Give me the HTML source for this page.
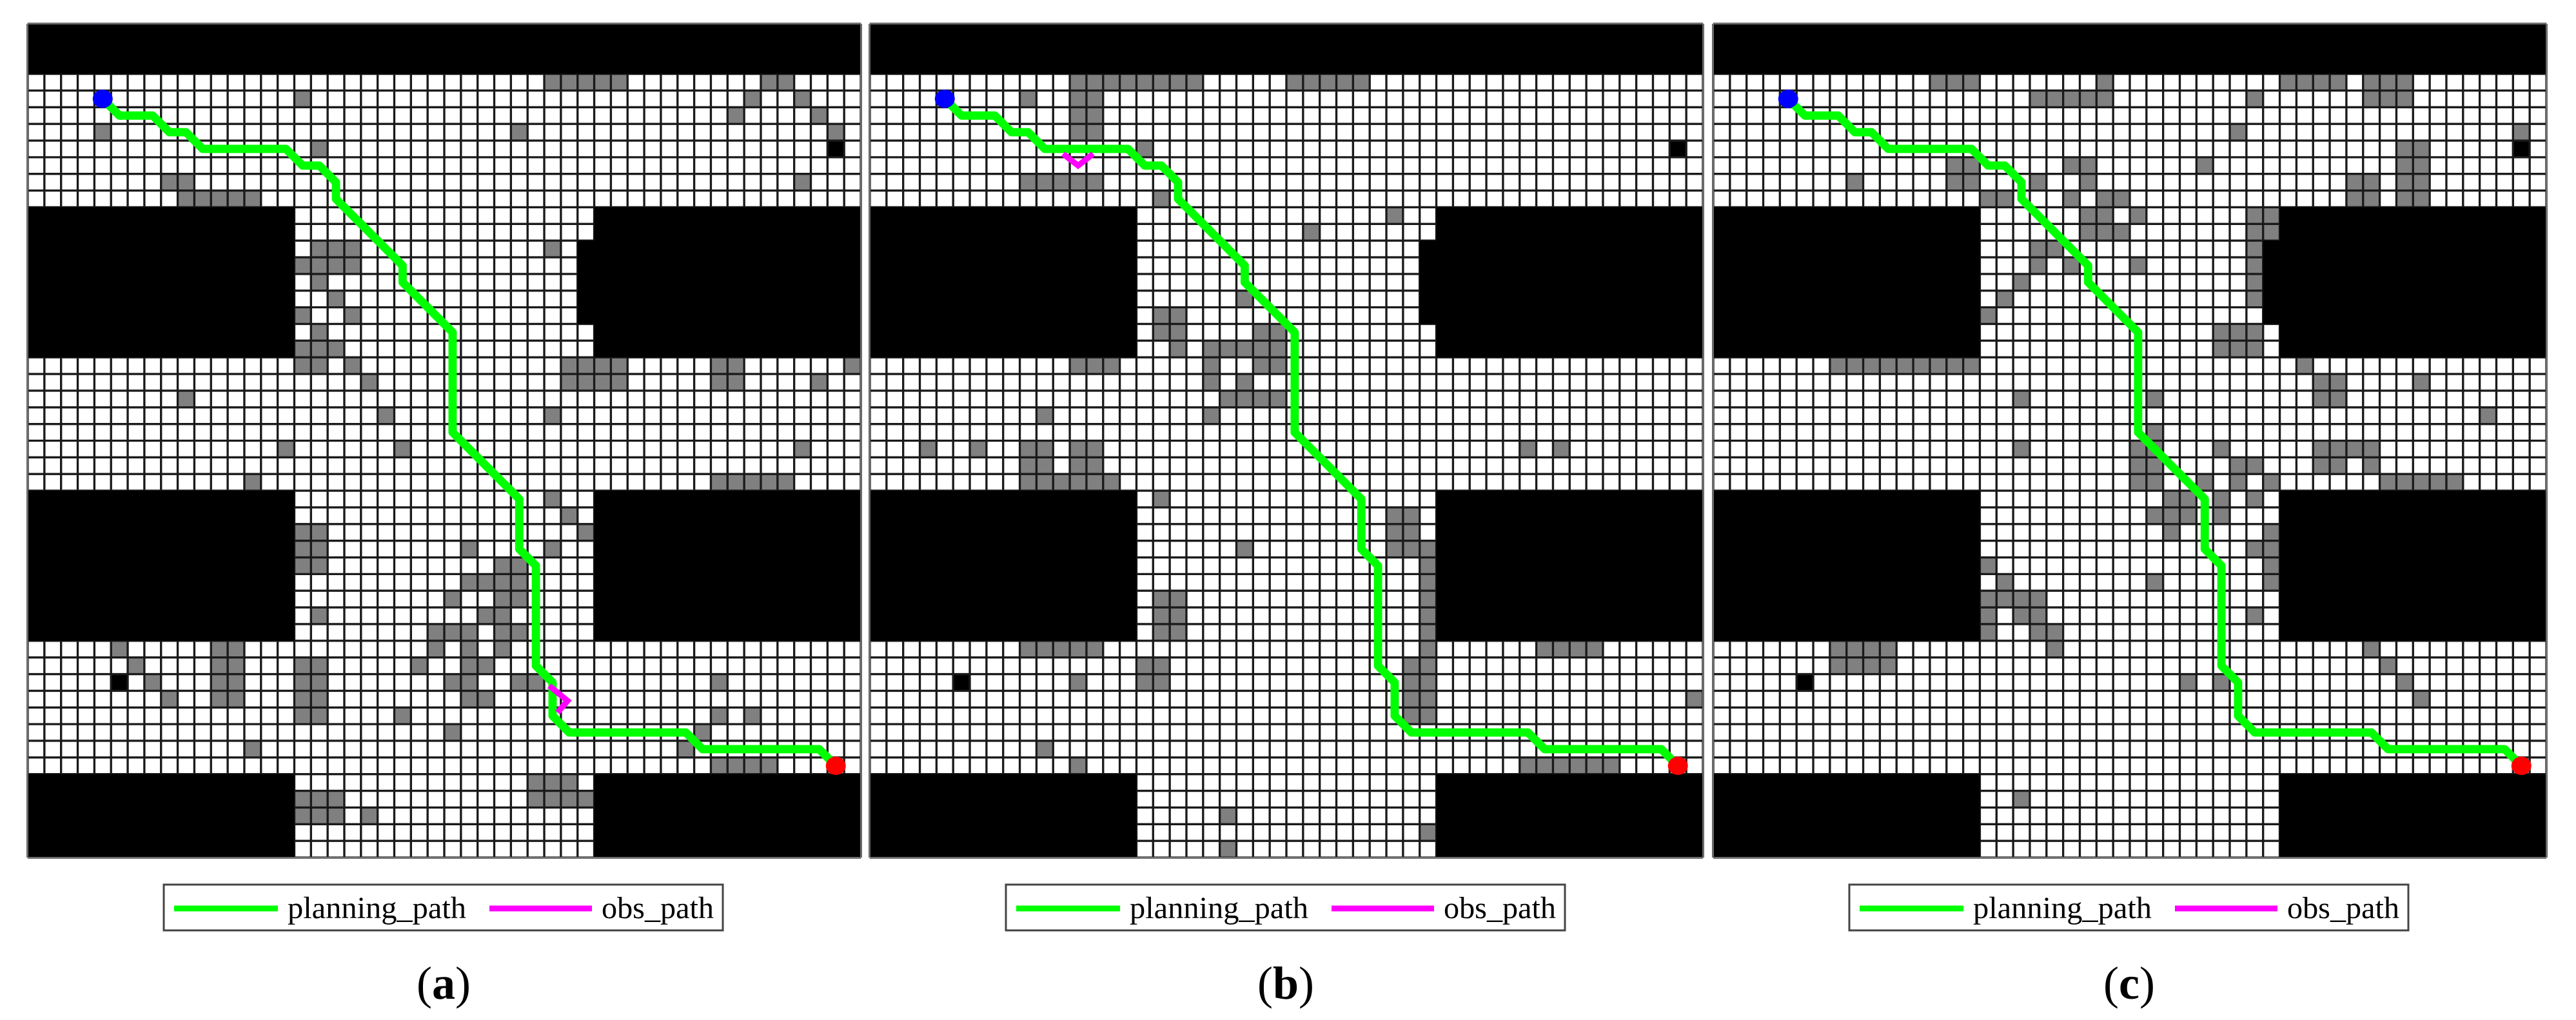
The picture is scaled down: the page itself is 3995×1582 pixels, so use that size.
<!DOCTYPE html>
<html>
<head>
<meta charset="utf-8">
<style>
html,body{margin:0;padding:0;background:#fff;}
body{width:3995px;height:1582px;overflow:hidden;}
svg{display:block;}
text{font-family:"Liberation Serif",serif;fill:#000;}
</style>
</head>
<body>
<svg id="s" width="3995" height="1582" viewBox="0 0 3995 1582" xmlns="http://www.w3.org/2000/svg">
  <g id="pa" transform="translate(43,37) scale(25.84,25.86)"></g>
  <g id="pb" transform="translate(1349,37) scale(25.84,25.86)"></g>
  <g id="pc" transform="translate(2657,37) scale(25.84,25.86)"></g>

  <g>
    <rect x="254" y="1372" width="867" height="71" fill="#fff" stroke="#444" stroke-width="3"/>
    <line x1="270" y1="1409" x2="431" y2="1409" stroke="#00ff00" stroke-width="9"/>
    <text x="446" y="1424" font-size="48" textLength="277" lengthAdjust="spacingAndGlyphs">planning_path</text>
    <line x1="759" y1="1409" x2="918" y2="1409" stroke="#ff00ff" stroke-width="9"/>
    <text x="933" y="1424" font-size="48" textLength="174" lengthAdjust="spacingAndGlyphs">obs_path</text>
    <text x="688" y="1549" font-size="72" text-anchor="middle">(<tspan font-weight="bold">a</tspan>)</text>
  </g>
  <g transform="translate(1306,0)">
    <rect x="254" y="1372" width="867" height="71" fill="#fff" stroke="#444" stroke-width="3"/>
    <line x1="270" y1="1409" x2="431" y2="1409" stroke="#00ff00" stroke-width="9"/>
    <text x="446" y="1424" font-size="48" textLength="277" lengthAdjust="spacingAndGlyphs">planning_path</text>
    <line x1="759" y1="1409" x2="918" y2="1409" stroke="#ff00ff" stroke-width="9"/>
    <text x="933" y="1424" font-size="48" textLength="174" lengthAdjust="spacingAndGlyphs">obs_path</text>
    <text x="688" y="1549" font-size="72" text-anchor="middle">(<tspan font-weight="bold">b</tspan>)</text>
  </g>
  <g transform="translate(2614,0)">
    <rect x="254" y="1372" width="867" height="71" fill="#fff" stroke="#444" stroke-width="3"/>
    <line x1="270" y1="1409" x2="431" y2="1409" stroke="#00ff00" stroke-width="9"/>
    <text x="446" y="1424" font-size="48" textLength="277" lengthAdjust="spacingAndGlyphs">planning_path</text>
    <line x1="759" y1="1409" x2="918" y2="1409" stroke="#ff00ff" stroke-width="9"/>
    <text x="933" y="1424" font-size="48" textLength="174" lengthAdjust="spacingAndGlyphs">obs_path</text>
    <text x="688" y="1549" font-size="72" text-anchor="middle">(<tspan font-weight="bold">c</tspan>)</text>
  </g>
</svg>
<script>
(function(){
var NS="http://www.w3.org/2000/svg";
function el(p,n,a){var e=document.createElementNS(NS,n);for(var k in a)e.setAttribute(k,a[k]);p.appendChild(e);return e;}
var blacks=[[0,0,50,3],[0,11,16,9],[0,28,16,9],[0,45,16,5],[34,11,16,9],[33,13,1,5],[34,28,16,9],[34,45,16,5]];
var path=[[4.5,4.5],[5.5,5.5],[7.5,5.5],[8.5,6.5],[9.5,6.5],[10.5,7.5],[15.5,7.5],[16.5,8.5],[17.5,8.5],[18.5,9.5],[18.5,10.5],[22.5,14.5],[22.5,15.5],[25.5,18.5],[25.5,24.5],[29.5,28.5],[29.5,31.5],[30.5,32.5],[30.5,38.5],[31.5,39.5],[31.5,41.5],[32.5,42.5],[39.5,42.5],[40.5,43.5],[47.5,43.5],[48.5,44.5]];
var grays={
pa:[[3,31,35],[3,44,45],[4,16],[4,43],[4,46],[5,42],[5,47],[6,4],[6,29],[6,48],[7,17],[9,8,9],[9,46],[10,9,13],
[13,17,19],[13,31],[14,16,19],[15,17],[16,18],[17,16],[17,19],[18,17],[19,16,18],
[20,16,17],[20,19],[20,32,35],[20,41,42],[20,49],[21,20],[21,32,35],[21,41,42],[21,47],[22,9],[23,21],[23,31],[25,15],[25,22],[25,46],[27,13],[27,41,45],
[28,31],[29,32],[30,16,17],[30,33],[31,16,17],[31,26],[31,31],[32,16,17],[32,28,29],[33,26,29],[34,25],[34,28,29],[35,17],[35,27,28],[36,24,26],[36,28,29],
[37,5],[37,11,12],[37,24],[37,26],[37,28],[38,6],[38,11,12],[38,16,17],[38,23],[38,26,27],[39,7],[39,11,12],[39,16,17],[39,25,26],[39,29,30],[39,41],[40,8],[40,11,12],[40,16,17],[40,26,27],[41,16,17],[41,22],[41,41],[41,43],[42,25],[42,40],[43,13],[43,39],[44,41,44],
[45,30,32],[46,16,18],[46,30,33],[47,16,18],[47,20]],
pb:[[3,12,19],[3,25,29],[4,9],[4,12,13],[5,12,13],[6,12,13],[7,16],[9,9,13],[10,17],
[11,31],[12,26],[16,22],[17,17,18],[18,17,18],[18,23,24],[19,18],[19,20,24],
[20,12,14],[20,20],[20,23,24],[21,20],[21,22],[22,21,24],[23,10],[23,20],[25,3],[25,6],[25,9,10],[25,12,13],[25,39],[25,41],[26,9,10],[26,12,13],[27,9,14],
[28,17],[29,31,32],[30,31,32],[31,22],[31,31,33],[32,33],[33,33],[34,17,18],[34,33],[35,17,18],[35,33],[36,17,18],[36,33],
[37,9,13],[37,33],[37,40,43],[38,16,17],[38,32,33],[39,12],[39,16,17],[39,32,33],[40,32,33],[40,49],[41,32,33],[43,10],[44,12],[44,39,44],
[47,21],[48,33],[49,21]],
pc:[[3,13,15],[3,23],[3,34,37],[3,39,41],[4,19,23],[4,32],[4,39,41],[6,31],[6,48],[7,41,42],[8,14,15],[8,21,22],[8,29],[8,41,42],[9,8],[9,14,15],[9,19],[9,22],[9,38,39],[9,41,42],[10,16,17],[10,21],[10,23,24],[10,38,39],[10,41,42],
[11,22,23],[11,25],[11,32,33],[12,22,24],[12,32,33],[13,19,20],[13,32],[14,19],[14,21],[14,25],[14,32],[15,18],[15,32],[16,17],[16,32],[17,16],[18,30,32],[19,30,32],
[20,7,15],[20,35],[21,36,37],[21,42],[22,18],[22,26],[22,36,37],[23,46],[24,26],[25,18],[25,25,26],[25,30],[25,36,39],[26,25,26],[26,31,32],[26,36,37],[26,39],[27,25,26],[27,29],[27,31],[27,33],[27,40,44],
[28,27,28],[28,30],[28,32],[29,26,28],[29,30],[30,27],[30,33],[31,32,33],[32,16],[32,33],[33,17],[33,26],[33,33],[34,16,19],[35,16],[35,18,19],[35,32],[36,16],[36,19,20],
[37,7,10],[37,20],[37,39],[38,7,10],[38,40],[39,28],[39,30],[39,41],[40,42],[46,18]]
};
var obs={pa:[[31.3,39.7],[32.4,40.6],[31.8,41.3]],pb:[[11.6,7.8],[12.5,8.5],[13.4,7.8]],pc:null};
["pa","pb","pc"].forEach(function(id){
  var g=document.getElementById(id);
  el(g,"rect",{x:0,y:0,width:50,height:50,fill:"#fff"});
  grays[id].forEach(function(c){
    var r=c[0],a=c[1],b=(c.length>2?c[2]:c[1]);
    el(g,"rect",{x:a,y:r,width:b-a+1,height:1,fill:"#808080"});
  });
  el(g,"rect",{x:48,y:7,width:1,height:1,fill:"#000"});
  el(g,"rect",{x:5,y:39,width:1,height:1,fill:"#000"});
  var d="";
  for(var i=0;i<=50;i++){d+="M"+i+" 0V50M0 "+i+"H50";}
  el(g,"path",{d:d,stroke:"#1a1a1a","stroke-width":0.13,fill:"none"});
  blacks.forEach(function(b){el(g,"rect",{x:b[0],y:b[1],width:b[2],height:b[3],fill:"#000"});});
  el(g,"rect",{x:0,y:0,width:50,height:50,fill:"none",stroke:"#888","stroke-width":0.06});
  var pd="M"+path.map(function(p){return p[0]+" "+p[1];}).join("L");
  el(g,"path",{d:pd,stroke:"#00ff00","stroke-width":0.5,fill:"none","stroke-linejoin":"round","stroke-linecap":"round"});
  if(obs[id]){
    el(g,"path",{d:"M"+obs[id].map(function(p){return p[0]+" "+p[1];}).join("L"),stroke:"#ff00ff","stroke-width":0.35,fill:"none","stroke-linejoin":"miter"});
  }
  el(g,"ellipse",{cx:4.5,cy:4.5,rx:0.6,ry:0.55,fill:"#0000ff"});
  el(g,"ellipse",{cx:48.5,cy:44.5,rx:0.6,ry:0.55,fill:"#ff0000"});
});
})();
</script>
</body>
</html>
